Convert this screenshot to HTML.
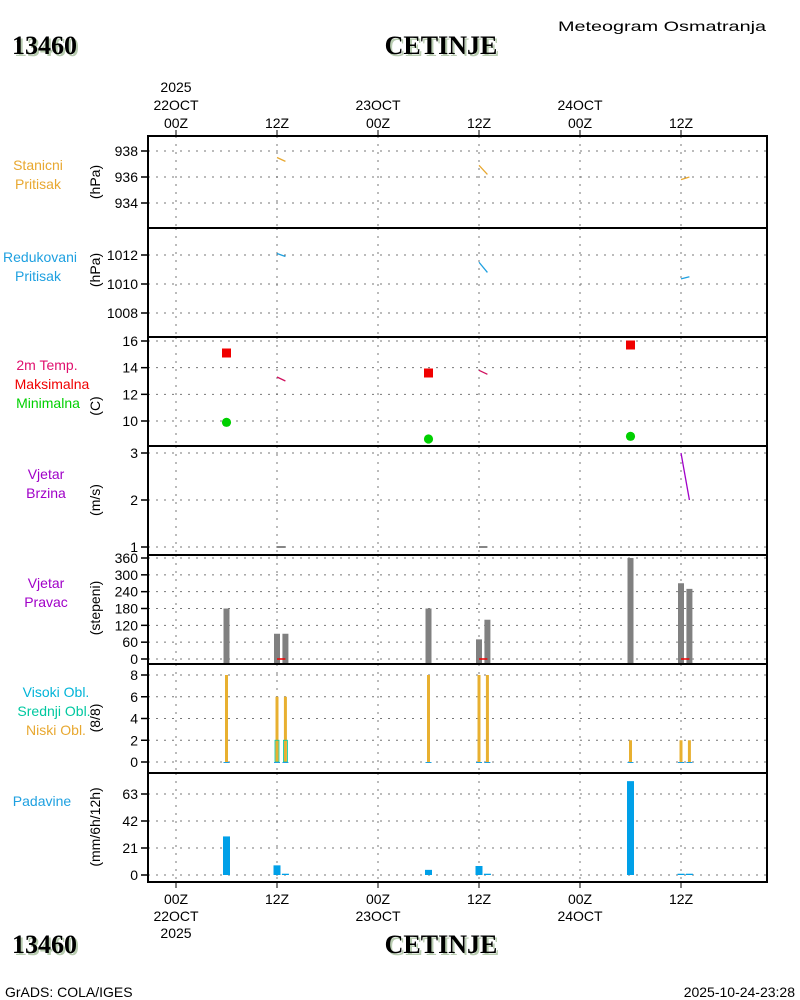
<!DOCTYPE html>
<html><head><meta charset="utf-8"><style>
html,body{margin:0;padding:0;background:#fff;width:800px;height:1000px;overflow:hidden}
svg{display:block}
.t{font-family:"Liberation Sans",sans-serif;font-size:14px}
.big{font-family:"Liberation Serif",serif;font-weight:bold;font-size:26px}
</style></head><body>
<svg id="chart" width="800" height="1000" xmlns="http://www.w3.org/2000/svg">
<g id="static">
<text class="t" x="558" y="31" font-size="18" textLength="208" lengthAdjust="spacingAndGlyphs">Meteogram Osmatranja</text>
<g><text class="big" x="14" y="56" fill="#b8ccb0">13460</text><text class="big" x="12" y="54" fill="#000">13460</text></g>
<g><text class="big" x="443" y="56" text-anchor="middle" fill="#b8ccb0">CETINJE</text><text class="big" x="441" y="54" text-anchor="middle">CETINJE</text></g>
<g><text class="big" x="14" y="955" fill="#b8ccb0">13460</text><text class="big" x="12" y="953">13460</text></g>
<g><text class="big" x="443" y="955" text-anchor="middle" fill="#b8ccb0">CETINJE</text><text class="big" x="441" y="953" text-anchor="middle">CETINJE</text></g>
<text class="t" x="5" y="997" font-size="12">GrADS: COLA/IGES</text>
<text class="t" x="795" y="997" font-size="12" text-anchor="end">2025-10-24-23:28</text>
<g class="t" text-anchor="middle">
<text x="38" y="170" fill="#e8a830">Stanicni</text>
<text x="38" y="189" fill="#e8a830">Pritisak</text>
<text x="40" y="262" fill="#1ea0e0">Redukovani</text>
<text x="38" y="281" fill="#1ea0e0">Pritisak</text>
<text x="47" y="370" fill="#e0106e">2m Temp.</text>
<text x="52" y="389" fill="#f00000">Maksimalna</text>
<text x="48" y="408" fill="#00d000">Minimalna</text>
<text x="46" y="479" fill="#a000c8">Vjetar</text>
<text x="46" y="498" fill="#a000c8">Brzina</text>
<text x="46" y="588" fill="#a000c8">Vjetar</text>
<text x="46" y="607" fill="#a000c8">Pravac</text>
<text x="56" y="697" fill="#00b4d8">Visoki Obl.</text>
<text x="54" y="716" fill="#00c8a0">Srednji Obl.</text>
<text x="56" y="735" fill="#e8a830">Niski Obl.</text>
<text x="42" y="806" fill="#1ea0e0">Padavine</text>
</g>
</g>
<g id="grid"></g><g id="marks"></g><g id="axes"></g>
</svg>
<script>
// ---- data (hours since 22OCT 00Z) ----
const obsHours=[12,13,36,37,60,61];
const presStation=[937.5,937.2,936.9,936.2,935.8,936.0];
const presReduced=[1012.1,1011.9,1011.5,1010.8,1010.35,1010.5];
const temp2m=[13.3,13.0,13.8,13.5,null,null];
const windSpeed=[1.0,1.0,1.0,1.0,3.0,2.0];
const extremeHours=[6,30,54];
const tempMax=[15.1,13.6,15.7];
const tempMin=[9.9,8.65,8.85];
const dirHours=[6,12,13,30,36,37,54,60,61];
const windDir=[180,90,90,180,70,140,360,270,250];
const lowCloud=[8,6,6,8,8,8,2,2,2];
const midCloud=[0,2,2,0,0,0,0,0,0];
const precip=[30,7.5,1,4,7,1,73,1,1];
const timeTicks=[0,12,24,36,48,60];
const timeLabels=["00Z","12Z","00Z","12Z","00Z","12Z"];
const dayLabels={0:"22OCT",24:"23OCT",48:"24OCT"};

const NS="http://www.w3.org/2000/svg";
const L=148,R=767;
const X=h=>176+h*(101/12);
function mk(tag,attrs,parent){const e=document.createElementNS(NS,tag);for(const k in attrs)e.setAttribute(k,attrs[k]);parent.appendChild(e);return e;}
const grid=document.getElementById('grid'),marks=document.getElementById('marks'),axes=document.getElementById('axes');
const panels=[
 {n:'station-pressure',top:136,bot:228,v1:938,p1:151,v2:934,p2:203,ticks:[938,936,934],unit:'(hPa)',uy:182},
 {n:'reduced-pressure',top:228,bot:337,v1:1012,p1:255,v2:1008,p2:313,ticks:[1012,1010,1008],unit:'(hPa)',uy:270},
 {n:'temperature',top:337,bot:446,v1:16,p1:341,v2:10,p2:421,ticks:[16,14,12,10],unit:'(C)',uy:406},
 {n:'wind-speed',top:446,bot:555,v1:3,p1:453,v2:1,p2:547,ticks:[3,2,1],unit:'(m/s)',uy:500},
 {n:'wind-direction',top:555,bot:664,v1:360,p1:558,v2:0,p2:659,ticks:[360,300,240,180,120,60,0],unit:'(stepeni)',uy:608},
 {n:'cloud-cover',top:664,bot:773,v1:8,p1:675,v2:0,p2:762,ticks:[8,6,4,2,0],unit:'(8/8)',uy:718},
 {n:'precipitation',top:773,bot:882,v1:63,p1:794,v2:0,p2:875,ticks:[63,42,21,0],unit:'(mm/6h/12h)',uy:827}
];
panels.forEach(p=>{p.Y=v=>p.p1+(v-p.v1)*(p.p2-p.p1)/(p.v2-p.v1);});
panels.forEach(p=>{
 const g=mk('g',{},grid);
 
 
 timeTicks.forEach(h=>{mk('line',{x1:X(h),x2:X(h),y1:p.top,y2:p.bot,stroke:'#777','stroke-dasharray':'2,6'},g);});
 p.ticks.forEach(v=>{const y=p.Y(v);mk('line',{x1:L,x2:R,y1:y,y2:y,stroke:'#777','stroke-dasharray':'2,6'},g);
  const lb=mk('text',{x:138,y:y+5,'text-anchor':'end',class:'t','font-size':'13'},axes);lb.textContent=v;
  
  
  mk('line',{x1:141,x2:148,y1:y,y2:y,stroke:'#000','stroke-width':1.5},axes);});
 const u=mk('text',{x:0,y:0,'text-anchor':'middle',class:'t','font-size':'14',transform:`translate(100,${p.uy}) rotate(-90)`},axes);u.textContent=p.unit;
 
 
 const fr=mk('rect',{x:L,y:p.top,width:R-L,height:p.bot-p.top,fill:'none',stroke:'#000','stroke-width':2},axes);
 
 
});
timeTicks.forEach((h,i)=>{
 const x=X(h);
 mk('line',{x1:x,x2:x,y1:130,y2:136,stroke:'#000'},axes);
 mk('line',{x1:x,x2:x,y1:882,y2:888,stroke:'#000'},axes);
 const a=mk('text',{x:x,y:128,'text-anchor':'middle',class:'t','font-size':'15'},axes);a.textContent=timeLabels[i];
 
 
 const b=mk('text',{x:x,y:904,'text-anchor':'middle',class:'t','font-size':'15'},axes);b.textContent=timeLabels[i];
 
 
 if(dayLabels[h]){
  const c=mk('text',{x:x,y:110,'text-anchor':'middle',class:'t','font-size':'15'},axes);c.textContent=dayLabels[h];
  
  
  const d=mk('text',{x:x,y:921,'text-anchor':'middle',class:'t','font-size':'15'},axes);d.textContent=dayLabels[h];
  
  
 }
});
[[92],[938]].forEach(([y])=>{const t=mk('text',{x:X(0),y:y,'text-anchor':'middle',class:'t','font-size':'15'},axes);t.textContent='2025';
 
 });
function segs(vals,p,color,name){
 for(let i=0;i<obsHours.length-1;i+=2){
  if(vals[i]==null||vals[i+1]==null)continue;
  const l=mk('line',{x1:X(obsHours[i]),y1:p.Y(vals[i]),x2:X(obsHours[i+1]),y2:p.Y(vals[i+1]),stroke:color,'stroke-width':1.3},marks);
  
  
 }
}
segs(presStation,panels[0],'#e8a830','station-pressure-line');
segs(presReduced,panels[1],'#1ea0e0','reduced-pressure-line');
segs(temp2m,panels[2],'#d0105e','temp-line');
for(let i=0;i<obsHours.length-1;i+=2){
 const c=(windSpeed[i]===windSpeed[i+1]&&windSpeed[i]<=1)?'#444':'#a000c8';
 const l=mk('line',{x1:X(obsHours[i]),y1:panels[3].Y(windSpeed[i]),x2:X(obsHours[i+1]),y2:panels[3].Y(windSpeed[i+1]),stroke:c,'stroke-width':1.3},marks);
 
 
}
extremeHours.forEach((h,i)=>{
 const p=panels[2];
 const s=mk('rect',{x:X(h)-4.5,y:p.Y(tempMax[i])-4.5,width:9,height:9,fill:'#f00000'},marks);
 
 
 const c=mk('circle',{cx:X(h),cy:p.Y(tempMin[i]),r:4.6,fill:'#00d000'},marks);
 
 
});
dirHours.forEach((h,i)=>{
 const p=panels[4],x=X(h);
 const b=mk('rect',{x:x-3,y:p.Y(windDir[i]),width:6,height:p.bot-p.Y(windDir[i]),fill:'#808080'},marks);
 
 
 const pc=panels[5];
 if(lowCloud[i]>0){const c=mk('rect',{x:x-1.5,y:pc.Y(lowCloud[i]),width:3,height:pc.Y(0)-pc.Y(lowCloud[i]),fill:'#e8b030'},marks);
  
  }
 if(midCloud[i]>0){const c=mk('rect',{x:x-2,y:pc.Y(midCloud[i]),width:4,height:pc.Y(0)-pc.Y(midCloud[i]),fill:'none',stroke:'#00c8a0','stroke-width':0.8},marks);
  
  }
 const z=mk('line',{x1:x-3,x2:x+3,y1:pc.Y(0)+0.5,y2:pc.Y(0)+0.5,stroke:'#1ea0e0','stroke-width':1},marks);
 
 
 const pp=panels[6];
 const r=mk('rect',{x:x-3.5,y:pp.Y(precip[i]),width:7,height:pp.Y(0)-pp.Y(precip[i]),fill:'#00a0e8'},marks);
 
 
});
for(let i=0;i<obsHours.length-1;i+=2){
 const p=panels[4];
 const l=mk('line',{x1:X(obsHours[i]),x2:X(obsHours[i+1]),y1:p.Y(0),y2:p.Y(0),stroke:'#f00000','stroke-width':1.5},marks);
 
 
}
</script>
</body></html>
